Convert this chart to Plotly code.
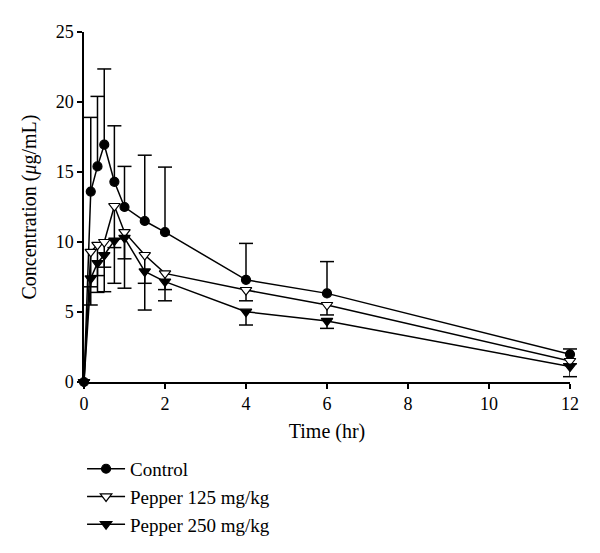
import plotly.graph_objects as go

time_hr = [0, 0.167, 0.333, 0.5, 0.75, 1, 1.5, 2, 4, 6, 12]

control_mean = [0, 13.6, 15.4, 16.95, 14.3, 12.5, 11.5, 10.7, 7.3, 6.33, 1.98]
control_upper = [0, 18.9, 20.4, 22.36, 18.3, 15.4, 16.2, 15.35, 9.9, 8.6, 2.36]

p125_mean = [0, 9.3, 9.8, 10.0, 12.57, 10.7, 9.07, 7.76, 6.57, 5.5, 1.5]
p125_lower = [0, 6.8, 7.6, 8.2, 7.05, 8.8, 7.05, 6.6, 5.8, 4.79, 1.3]

p250_mean = [0, 7.4, 8.5, 9.07, 10.1, 10.3, 7.9, 7.17, 5.02, 4.36, 1.1]
p250_lower = [0, 5.5, 6.4, 6.45, 9.6, 6.7, 5.14, 5.8, 4.07, 3.83, 0.38]

series_names = ["Control", "Pepper 125 mg/kg", "Pepper 250 mg/kg"]

FONT = "Liberation Serif"
fig = go.Figure()

def add_series(name, mean, caps, upward, symbol, fill):
    if upward:
        err = dict(type="data", symmetric=False,
                   array=[c - m for c, m in zip(caps, mean)],
                   arrayminus=[0] * len(mean),
                   color="black", thickness=1.5, width=0)
    else:
        err = dict(type="data", symmetric=False,
                   array=[0] * len(mean),
                   arrayminus=[m - c for c, m in zip(caps, mean)],
                   color="black", thickness=1.5, width=0)
    # caps
    fig.add_trace(go.Scatter(
        x=time_hr[1:], y=caps[1:], mode="markers", showlegend=False,
        hoverinfo="skip", cliponaxis=False,
        marker=dict(symbol="line-ew", size=10, line=dict(color="black", width=1.5)),
    ))
    fig.add_trace(go.Scatter(
        x=time_hr, y=mean, name=name, mode="lines+markers", cliponaxis=False,
        line=dict(color="black", width=1.5),
        marker=dict(symbol=symbol, size=10 if symbol != "circle" else 9,
                    color=fill, line=dict(color="black", width=1.2)),
        error_y=err,
    ))

add_series(series_names[0], control_mean, control_upper, True, "circle", "black")
add_series(series_names[1], p125_mean, p125_lower, False, "triangle-down", "white")
add_series(series_names[2], p250_mean, p250_lower, False, "triangle-down", "black")

axis_common = dict(
    showline=True, linecolor="black", linewidth=1.5, ticks="outside",
    ticklen=5, tickwidth=1.5, tickcolor="black", showgrid=False, zeroline=False,
    automargin=False,
    tickfont=dict(family=FONT, size=18, color="black"),
)

title_font = dict(family=FONT, size=20, color="black")

fig.update_layout(
    width=600, height=553,
    margin=dict(l=76, r=38, t=24, b=179),
    plot_bgcolor="white", paper_bgcolor="white",
    font=dict(family=FONT, size=18, color="black"),
    xaxis=dict(range=[0, 12], tickvals=[0, 2, 4, 6, 8, 10, 12],
               title=dict(text="Time (hr)", font=title_font, standoff=11),
               **axis_common),
    yaxis=dict(range=[0, 25], tickvals=[0, 5, 10, 15, 20, 25],
               title=dict(text="Concentration (<i>μ</i>g/mL)", font=title_font, standoff=14),
               **axis_common),
    legend=dict(x=-0.004, y=-0.194, xanchor="left", yanchor="top",
                itemwidth=38,
                font=dict(family=FONT, size=19, color="black"), bgcolor="rgba(0,0,0,0)"),
    showlegend=True,
)

fig.write_html("out.html")
